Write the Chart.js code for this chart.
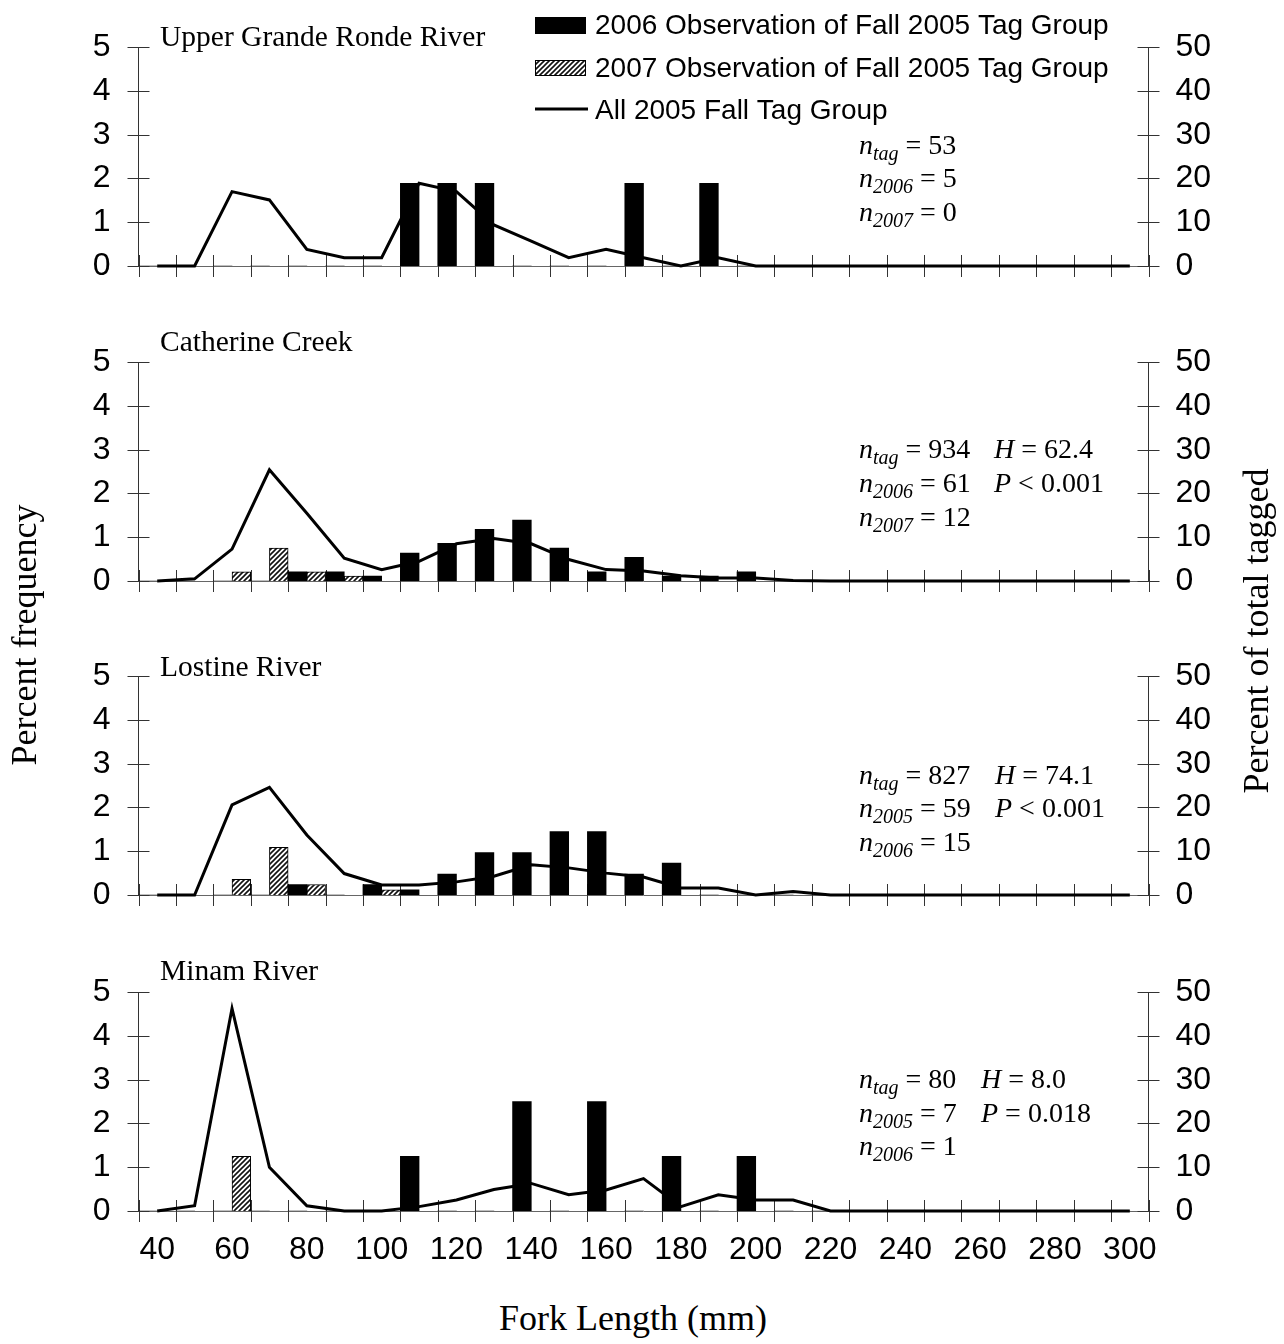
<!DOCTYPE html>
<html>
<head>
<meta charset="utf-8">
<title>Fork length distributions</title>
<script src="https://cdn.jsdelivr.net/npm/chart.js@4.4.0/dist/chart.umd.min.js"></script>
<style>
body { margin: 0; background: #fff; }
#page { position: relative; width: 1284px; height: 1344px; background: #fff; overflow: hidden; }
#page canvas { position: absolute; left: 0; }
.ytitle { position: absolute; width: 440px; height: 40px; line-height: 40px; text-align: center; white-space: nowrap;
  font: 36px "Liberation Serif", "Times New Roman", serif; color: #000; transform: rotate(-90deg); }
.xtitle { position: absolute; left: 333px; width: 600px; height: 40px; line-height: 40px; text-align: center;
  font: 36px "Liberation Serif", "Times New Roman", serif; color: #000; }
</style>
</head>
<body>
<div id="page">
  <canvas id="p1" width="1284" height="315" style="top:0px"></canvas>
  <canvas id="p2" width="1284" height="315" style="top:315px"></canvas>
  <canvas id="p3" width="1284" height="315" style="top:629px"></canvas>
  <canvas id="p4" width="1284" height="340" style="top:945px"></canvas>
  <div class="ytitle" style="left:-197px; top:615px">Percent frequency</div>
  <div class="ytitle" style="left:1035px; top:611px">Percent of total tagged</div>
  <div class="xtitle" style="top:1297px">Fork Length (mm)</div>
</div>
<script>
// fork length bins (mm)
var lengths = ['40', '50', '60', '70', '80', '90', '100', '110', '120', '130', '140', '150', '160', '170',
  '180', '190', '200', '210', '220', '230', '240', '250', '260', '270', '280', '290', '300'];

// Upper Grande Ronde River
var ugr2006   = [0, 0, 0, 0, 0, 0, 0, 1.89, 1.89, 1.89, 0, 0, 0, 1.89, 0, 1.89, 0, 0, 0, 0, 0, 0, 0, 0, 0, 0, 0];
var ugr2007   = [0, 0, 0, 0, 0, 0, 0, 0, 0, 0, 0, 0, 0, 0, 0, 0, 0, 0, 0, 0, 0, 0, 0, 0, 0, 0, 0];
var ugrTagged = [0, 0, 17.0, 15.1, 3.8, 1.9, 1.9, 18.9, 17.0, 9.4, 5.7, 1.9, 3.8, 1.9, 0, 1.9, 0, 0, 0, 0, 0, 0, 0, 0, 0, 0, 0];

// Catherine Creek
var cat2006   = [0, 0, 0, 0, 0.21, 0.21, 0.11, 0.64, 0.86, 1.18, 1.39, 0.75, 0.21, 0.54, 0.11, 0.11, 0.21, 0, 0, 0, 0, 0, 0, 0, 0, 0, 0];
var cat2007   = [0, 0, 0.21, 0.75, 0.21, 0.11, 0, 0, 0, 0, 0, 0, 0, 0, 0, 0, 0, 0, 0, 0, 0, 0, 0, 0, 0, 0, 0];
var catTagged = [0, 0.5, 7.3, 25.4, 15.5, 5.2, 2.6, 4.5, 8.5, 9.7, 8.5, 4.9, 2.6, 2.3, 1.2, 0.7, 0.7, 0.1, 0, 0, 0, 0, 0, 0, 0, 0, 0];

// Lostine River
var los2006   = [0, 0, 0, 0, 0.24, 0, 0.24, 0.12, 0.48, 0.97, 0.97, 1.45, 1.45, 0.48, 0.73, 0, 0, 0, 0, 0, 0, 0, 0, 0, 0, 0, 0];
var los2007   = [0, 0, 0.36, 1.09, 0.24, 0, 0.12, 0, 0, 0, 0, 0, 0, 0, 0, 0, 0, 0, 0, 0, 0, 0, 0, 0, 0, 0, 0];
var losTagged = [0, 0, 20.6, 24.6, 13.7, 4.9, 2.3, 2.3, 3.0, 4.3, 6.9, 6.2, 5.0, 4.1, 1.6, 1.6, 0, 0.8, 0, 0, 0, 0, 0, 0, 0, 0, 0];

// Minam River
var min2006   = [0, 0, 0, 0, 0, 0, 0, 1.25, 0, 0, 2.5, 0, 2.5, 0, 1.25, 0, 1.25, 0, 0, 0, 0, 0, 0, 0, 0, 0, 0];
var min2007   = [0, 0, 1.25, 0, 0, 0, 0, 0, 0, 0, 0, 0, 0, 0, 0, 0, 0, 0, 0, 0, 0, 0, 0, 0, 0, 0, 0];
var minTagged = [0, 1.2, 46.3, 10.0, 1.2, 0, 0, 1.0, 2.5, 4.9, 6.3, 3.7, 4.8, 7.4, 1.0, 3.7, 2.5, 2.5, 0, 0, 0, 0, 0, 0, 0, 0, 0];

var seriesNames = ['2006 Observation of Fall 2005 Tag Group', '2007 Observation of Fall 2005 Tag Group', 'All 2005 Fall Tag Group'];

var SANS = '"Liberation Sans", Arial, Helvetica, sans-serif';
var SERIF = '"Liberation Serif", "Times New Roman", serif';

function makeHatch() {
  var c = document.createElement('canvas');
  c.width = 5; c.height = 5;
  var g = c.getContext('2d');
  g.fillStyle = '#fff';
  g.fillRect(0, 0, 5, 5);
  g.strokeStyle = '#111';
  g.lineWidth = 1.6;
  g.beginPath();
  g.moveTo(-1, 6); g.lineTo(6, -1);
  g.moveTo(-4, 4); g.lineTo(4, -4);
  g.moveTo(1, 9); g.lineTo(9, 1);
  g.stroke();
  return g.createPattern(c, 'repeat');
}
var hatch = makeHatch();

// tick marks that cross the axes, like the spreadsheet style
var crossTicks = {
  id: 'crossTicks',
  beforeDatasetsDraw: function(chart) {
    var ctx = chart.ctx, a = chart.chartArea;
    var sx = chart.scales.x, sy = chart.scales.y, s2 = chart.scales.y2;
    ctx.save();
    ctx.strokeStyle = '#333';
    ctx.lineWidth = 1;
    ctx.beginPath();
    sy.ticks.forEach(function(t) {
      var y = Math.round(sy.getPixelForValue(t.value)) + 0.5;
      ctx.moveTo(a.left - 11, y); ctx.lineTo(a.left + 11, y);
    });
    s2.ticks.forEach(function(t) {
      var y = Math.round(s2.getPixelForValue(t.value)) + 0.5;
      ctx.moveTo(a.right - 11, y); ctx.lineTo(a.right + 11, y);
    });
    for (var i = 0; i <= lengths.length; i++) {
      var x = Math.round(sx.getPixelForValue(i - 0.5)) + 0.5;
      ctx.moveTo(x, a.bottom - 11); ctx.lineTo(x, a.bottom + 11);
    }
    ctx.stroke();
    ctx.restore();
  }
};

// text runs: [text, flags] where flags holds 'i' (italic) and/or 's' (subscript)
function drawRich(ctx, x, y, parts) {
  parts.forEach(function(p) {
    var italic = p[1].indexOf('i') >= 0;
    var sub = p[1].indexOf('s') >= 0;
    ctx.font = (italic ? 'italic ' : '') + (sub ? 20 : 28) + 'px ' + SERIF;
    ctx.fillText(p[0], x, sub ? y + 6 : y);
    x += ctx.measureText(p[0]).width;
  });
}

function notesPlugin(note) {
  return {
    id: 'notes',
    afterDraw: function(chart) {
      var ctx = chart.ctx;
      ctx.save();
      ctx.fillStyle = '#000';
      ctx.textBaseline = 'alphabetic';
      ctx.textAlign = 'left';
      ctx.font = '29.5px ' + SERIF;
      ctx.fillText(note.title, 160, note.titleY);
      note.left.forEach(function(line, i) { drawRich(ctx, 859, note.rows[i], line); });
      (note.right || []).forEach(function(line, i) { drawRich(ctx, note.rightX, note.rows[i], line); });
      if (note.legend) {
        ctx.fillStyle = '#000';
        ctx.fillRect(535, 17, 51, 17);
        ctx.fillStyle = hatch;
        ctx.fillRect(535, 60, 51, 16);
        ctx.strokeStyle = '#000';
        ctx.lineWidth = 1;
        ctx.strokeRect(535.5, 60.5, 50, 15);
        ctx.lineWidth = 3;
        ctx.beginPath();
        ctx.moveTo(535, 109); ctx.lineTo(588, 109);
        ctx.stroke();
        ctx.fillStyle = '#000';
        ctx.font = '28px ' + SANS;
        ctx.textBaseline = 'middle';
        ctx.fillText(seriesNames[0], 595, 26);
        ctx.fillText(seriesNames[1], 595, 69);
        ctx.fillText(seriesNames[2], 595, 111);
      }
      ctx.restore();
    }
  };
}

function makePanel(id, d2006, d2007, tagged, note, showX, xHeight) {
  var tickFont = { family: SANS, size: 32 };
  return new Chart(document.getElementById(id), {
    type: 'bar',
    data: {
      labels: lengths,
      datasets: [
        { type: 'line', label: seriesNames[2], data: tagged, yAxisID: 'y2', borderColor: '#000', borderWidth: 3,
          pointRadius: 0, tension: 0, fill: false, order: 0, clip: false },
        { label: seriesNames[0], data: d2006, yAxisID: 'y', backgroundColor: '#000', borderWidth: 0,
          categoryPercentage: 1, barPercentage: 1, order: 1 },
        { label: seriesNames[1], data: d2007, yAxisID: 'y', backgroundColor: hatch, borderColor: '#000', borderWidth: 1,
          borderSkipped: 'bottom', categoryPercentage: 1, barPercentage: 1, order: 1 }
      ]
    },
    options: {
      responsive: false,
      animation: false,
      layout: { padding: { top: 24, left: 0, right: 0, bottom: 0 } },
      plugins: { legend: { display: false }, tooltip: { enabled: false } },
      scales: {
        x: {
          grid: { display: false, drawTicks: false },
          border: { color: '#666', width: 1 },
          ticks: { display: showX, autoSkip: false, maxRotation: 0, minRotation: 0, padding: 20, color: '#000', font: tickFont,
            callback: function(v, i) { return i % 2 === 0 ? lengths[i] : ''; } },
          afterFit: function(s) { s.height = xHeight; }
        },
        y: {
          position: 'left', min: 0, max: 5,
          grid: { display: false, drawTicks: false },
          border: { color: '#333', width: 1 },
          ticks: { stepSize: 1, padding: 28, color: '#000', font: tickFont },
          afterFit: function(s) { s.width = 138.5; }
        },
        y2: {
          position: 'right', min: 0, max: 50,
          grid: { display: false, drawTicks: false },
          border: { color: '#333', width: 1 },
          ticks: { stepSize: 10, padding: 27, color: '#000', font: tickFont },
          afterFit: function(s) { s.width = 135.5; }
        }
      }
    },
    plugins: [crossTicks, notesPlugin(note)]
  });
}

makePanel('p1', ugr2006, ugr2007, ugrTagged, {
  title: 'Upper Grande Ronde River', titleY: 46, legend: true,
  rows: [154, 187, 221],
  left: [
    [['n', 'i'], ['tag', 'is'], [' = 53', '']],
    [['n', 'i'], ['2006', 'is'], [' = 5', '']],
    [['n', 'i'], ['2007', 'is'], [' = 0', '']]
  ]
}, false, 49);

makePanel('p2', cat2006, cat2007, catTagged, {
  title: 'Catherine Creek', titleY: 36,
  rows: [143, 177, 211], rightX: 994,
  left: [
    [['n', 'i'], ['tag', 'is'], [' = 934', '']],
    [['n', 'i'], ['2006', 'is'], [' = 61', '']],
    [['n', 'i'], ['2007', 'is'], [' = 12', '']]
  ],
  right: [
    [['H', 'i'], [' = 62.4', '']],
    [['P', 'i'], [' < 0.001', '']]
  ]
}, false, 49);

makePanel('p3', los2006, los2007, losTagged, {
  title: 'Lostine River', titleY: 47,
  rows: [155, 188, 222], rightX: 995,
  left: [
    [['n', 'i'], ['tag', 'is'], [' = 827', '']],
    [['n', 'i'], ['2005', 'is'], [' = 59', '']],
    [['n', 'i'], ['2006', 'is'], [' = 15', '']]
  ],
  right: [
    [['H', 'i'], [' = 74.1', '']],
    [['P', 'i'], [' < 0.001', '']]
  ]
}, false, 49);

makePanel('p4', min2006, min2007, minTagged, {
  title: 'Minam River', titleY: 35,
  rows: [143, 177, 210], rightX: 981,
  left: [
    [['n', 'i'], ['tag', 'is'], [' = 80', '']],
    [['n', 'i'], ['2005', 'is'], [' = 7', '']],
    [['n', 'i'], ['2006', 'is'], [' = 1', '']]
  ],
  right: [
    [['H', 'i'], [' = 8.0', '']],
    [['P', 'i'], [' = 0.018', '']]
  ]
}, true, 74);
</script>
</body>
</html>
